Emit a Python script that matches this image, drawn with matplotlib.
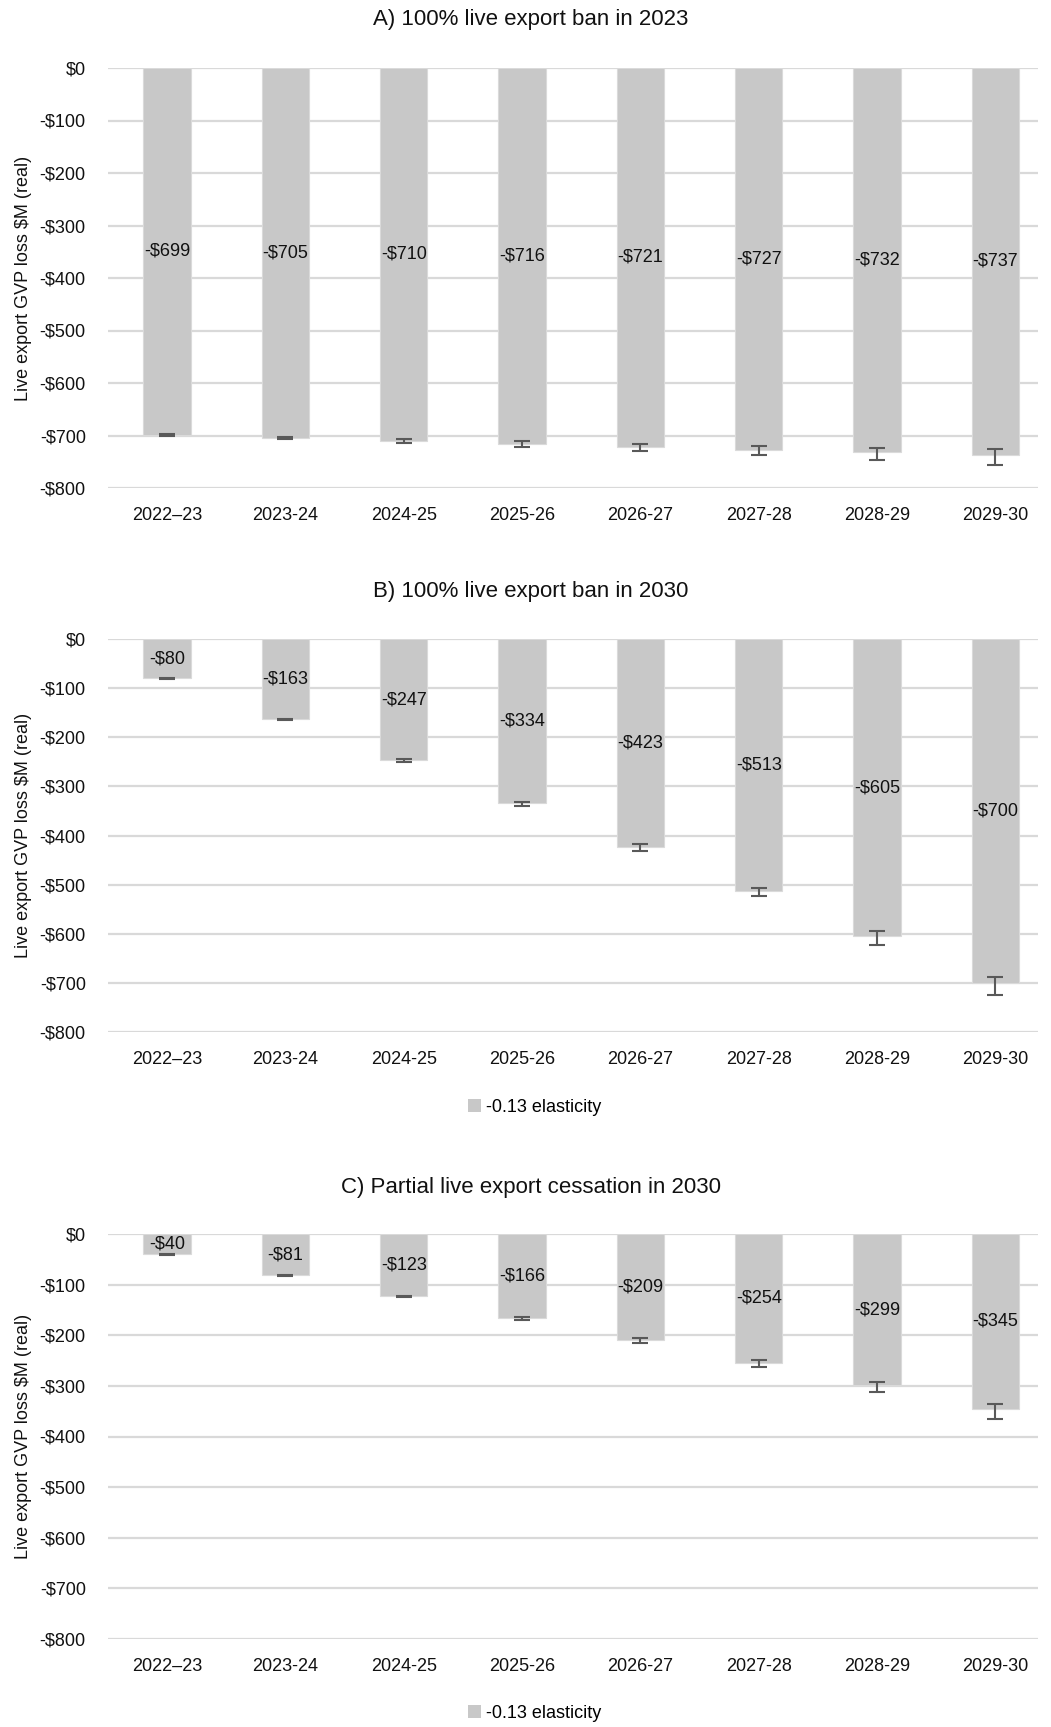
import numpy as np
import matplotlib
matplotlib.use('Agg')
import matplotlib.pyplot as plt
from matplotlib.ticker import FuncFormatter
from matplotlib.patches import Patch

plt.rcParams['font.family'] = ['Liberation Sans Narrow', 'Liberation Sans', 'DejaVu Sans']

years = ['2022–23', '2023-24', '2024-25', '2025-26', '2026-27', '2027-28', '2028-29', '2029-30']

# A) 100% ban in 2023
a_vals = [-699, -705, -710, -716, -721, -727, -732, -737]
a_err_down = [1, 2, 5, 6, 9, 11, 15, 20]
a_err_up = [1, 2, 2.5, 5, 5, 7, 9, 11]

# B) 100% ban in 2030
b_vals = [-80, -163, -247, -334, -423, -513, -605, -700]
b_err_down = [1, 2, 3, 5, 8, 11, 17, 24]
b_err_up = [1, 1, 2, 3, 5, 7, 10, 12]

# C) partial cessation in 2030
c_vals = [-40, -81, -123, -166, -209, -254, -299, -345]
c_err_down = [1, 1.5, 2, 4, 6, 9, 13, 20]
c_err_up = [1, 1, 1.5, 3, 4, 5, 7, 9]

panels = [
    ('A) 100% live export ban in 2023', a_vals, a_err_down, a_err_up),
    ('B) 100% live export ban in 2030', b_vals, b_err_down, b_err_up),
    ('C) Partial live export cessation in 2030', c_vals, c_err_down, c_err_up),
]

W, H = 1051, 1727
fig = plt.figure(figsize=(W / 100, H / 100), dpi=100)

# (top px, bottom px, title y px, legend y px)
boxes = [(68, 488, 20, None), (639, 1032, 592, 1107), (1234, 1639, 1188, 1713)]
left, right = 108, 1038

bar_col = '#C8C8C8'
grid_col = '#D9D9D9'

for (title, vals, edn, eup), (top, bot, ty, ly) in zip(panels, boxes):
    ax = fig.add_axes([left / W, 1 - bot / H, (right - left) / W, (bot - top) / H])
    x = np.arange(len(years))
    bars = ax.bar(x, vals, width=0.4, color=bar_col, edgecolor='#DADADA', linewidth=0.8, zorder=2)
    ax.errorbar(x, vals, yerr=[edn, eup], fmt='none', ecolor='#595959', elinewidth=1.5,
                capsize=6, capthick=1.5, zorder=3)
    ax.bar_label(bars, labels=['-$%d' % abs(v) for v in vals], label_type='center',
                 fontsize=13, color='#111111', zorder=4)
    ax.set_ylim(-800, 0)
    ax.set_xlim(-0.5, 7.36)
    ax.set_yticks(np.arange(-800, 1, 100))
    ax.yaxis.set_major_formatter(FuncFormatter(lambda v, p: '$0' if v == 0 else '-$%d' % abs(v)))
    ax.set_xticks(x)
    ax.set_xticklabels(years)
    ax.tick_params(axis='both', length=0, labelsize=13, colors='#111111')
    ax.tick_params(axis='x', pad=14)
    ax.tick_params(axis='y', pad=16)
    ax.grid(axis='y', color=grid_col, linewidth=1.6, zorder=0)
    ax.set_axisbelow(True)
    for s in ax.spines.values():
        s.set_visible(False)
    fig.text(24 / W, 1 - (top + bot) / 2 / H, 'Live export GVP loss $M (real)', rotation=90,
             ha='center', va='center', fontsize=13, color='#111111')
    fig.text(0.505, 1 - ty / H, title, ha='center', va='center', fontsize=16, color='#111111')
    if ly is not None:
        fig.legend(handles=[Patch(facecolor=bar_col, edgecolor='none')], labels=['-0.13 elasticity'],
                   loc='center', bbox_to_anchor=(535 / W, 1 - ly / H), frameon=False,
                   fontsize=13, handlelength=0.7, handleheight=0.7, handletextpad=0.3)

fig.savefig('out.png', dpi=100)
